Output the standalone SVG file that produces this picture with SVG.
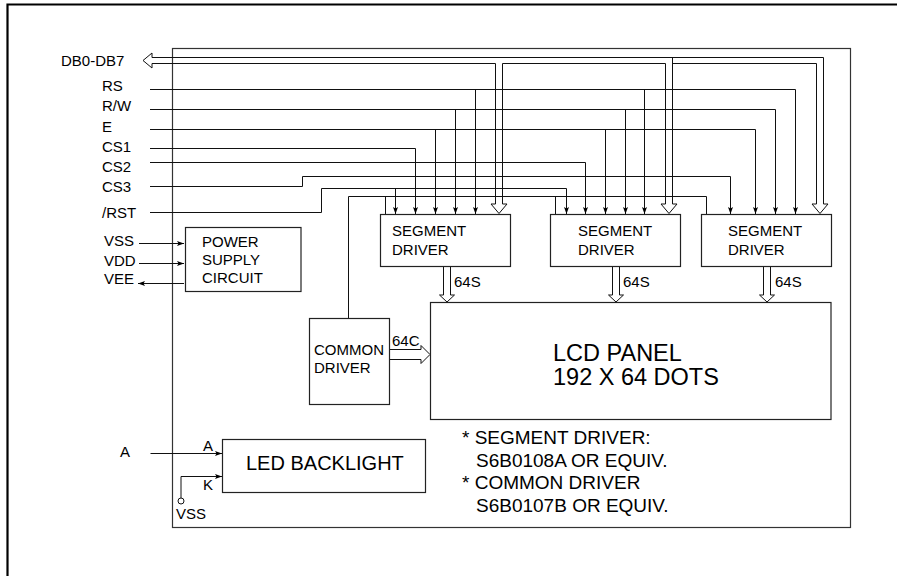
<svg xmlns="http://www.w3.org/2000/svg" width="897" height="576" viewBox="0 0 897 576">
<style>
.ln{fill:none;stroke:#111;stroke-width:1}
.hd{fill:#fff;stroke:#111;stroke-width:1}
.bx{fill:#fff;stroke:#222;stroke-width:1.2}
.fr{fill:none;stroke:#333;stroke-width:1.2}
text{font-family:"Liberation Sans",Arial,sans-serif;font-size:15px;fill:#000}
.big{font-size:20px}
.lcd{font-size:23.5px}
.note{font-size:19px}
</style>
<defs>
<marker id="ah" viewBox="0 0 7 5" refX="7" refY="2.5" markerWidth="7" markerHeight="5" orient="auto" markerUnits="userSpaceOnUse">
<path d="M0,0 L7,2.5 L0,5 L1.5,2.5 Z" fill="#000"/>
</marker>
</defs>
<rect width="897" height="576" fill="#fff"/>
<path d="M7.5,577 V4.5 H898" fill="none" stroke="#000" stroke-width="2.2"/>
<rect id="frame" class="fr" x="172.5" y="48.5" width="678" height="479"/>

<g id="connectors">
<!-- DB bus -->
<path class="ln" d="M152,57.5 H823.5 V204"/>
<path class="ln" d="M152,63.5 H495.5 V204"/>
<path class="ln" d="M502.5,204 V63.5 H665.5 V204"/>
<path class="ln" d="M672.5,204 V57.5"/>
<path class="ln" d="M672.5,63.5 H816.5 V204"/>
<path class="hd" d="M152,57.5 V53 L143,60.5 L152,68 V63.5"/>
<path class="hd" d="M495.5,204 H491 L499,213.5 L507,204 H502.5"/>
<path class="hd" d="M665.5,204 H661 L669,213.5 L677,204 H672.5"/>
<path class="hd" d="M816.5,204 H812 L820,213.5 L828,204 H823.5"/>
<!-- RS -->
<path class="ln" d="M150,89.5 H795.5 V214" marker-end="url(#ah)"/>
<path class="ln" d="M475.5,89.5 V214" marker-end="url(#ah)"/>
<path class="ln" d="M644.5,89.5 V214" marker-end="url(#ah)"/>
<!-- R/W -->
<path class="ln" d="M150,109.5 H775.5 V214" marker-end="url(#ah)"/>
<path class="ln" d="M455.5,109.5 V214" marker-end="url(#ah)"/>
<path class="ln" d="M625.5,109.5 V214" marker-end="url(#ah)"/>
<!-- E -->
<path class="ln" d="M150,129.5 H755.5 V214" marker-end="url(#ah)"/>
<path class="ln" d="M435.5,129.5 V214" marker-end="url(#ah)"/>
<path class="ln" d="M605.5,129.5 V214" marker-end="url(#ah)"/>
<!-- CS1 CS2 CS3 -->
<path class="ln" d="M150,148.5 H415.5 V214" marker-end="url(#ah)"/>
<path class="ln" d="M150,162.5 H585.5 V214" marker-end="url(#ah)"/>
<path class="ln" d="M150,186.5 H302.5 V176.5 H730.5 V214" marker-end="url(#ah)"/>
<!-- /RST -->
<path class="ln" d="M150,212.5 H321.5 V188.5 H566.5 V214" marker-end="url(#ah)"/>
<path class="ln" d="M395.5,188.5 V214" marker-end="url(#ah)"/>
<!-- common driver line -->
<path class="ln" d="M348.5,318 V196.5 H706.5 V214"/>
<path class="ln" d="M385.5,196.5 V214"/>
<path class="ln" d="M555.5,196.5 V214"/>
<!-- 64S buses -->
<path class="ln" d="M443.5,266 V295 M450.5,266 V295"/>
<path class="hd" d="M443.5,295 H439.5 L447,302 L454.5,295 H450.5"/>
<path class="ln" d="M612.5,266 V295 M619.5,266 V295"/>
<path class="hd" d="M612.5,295 H608.5 L616,302 L623.5,295 H619.5"/>
<path class="ln" d="M763.5,266 V295 M770.5,266 V295"/>
<path class="hd" d="M763.5,295 H759.5 L767,302 L774.5,295 H770.5"/>
<!-- 64C bus -->
<path class="ln" d="M390,349.5 H421 M390,359.5 H421"/>
<path class="hd" d="M421,349.5 V345.5 L430,354.5 L421,363.5 V359.5"/>
<!-- power -->
<path class="ln" d="M139,243.5 H184" marker-end="url(#ah)"/>
<path class="ln" d="M139,263.5 H184" marker-end="url(#ah)"/>
<path class="ln" d="M184,283.5 H138" marker-end="url(#ah)"/>
<!-- LED -->
<path class="ln" d="M150.5,453.5 H222" marker-end="url(#ah)"/>
<path class="ln" d="M181,498 V476.5 H222" marker-end="url(#ah)"/>
<circle cx="181" cy="501" r="3" fill="#fff" stroke="#111" stroke-width="1"/>
</g>

<g id="signal-labels">
<text x="61" y="66">DB0-DB7</text>
<text x="102" y="91">RS</text>
<text x="102" y="111">R/W</text>
<text x="102" y="132">E</text>
<text x="102" y="152">CS1</text>
<text x="102" y="172">CS2</text>
<text x="102" y="192">CS3</text>
<text x="102" y="218">/RST</text>
<text x="104" y="246">VSS</text>
<text x="104" y="266">VDD</text>
<text x="104" y="284">VEE</text>
<text x="454" y="287">64S</text>
<text x="623" y="287">64S</text>
<text x="775" y="287">64S</text>
<text x="392" y="346">64C</text>
<text x="120" y="457">A</text>
<text x="203" y="451">A</text>
<text x="203" y="490">K</text>
<text x="176" y="519">VSS</text>
</g>

<g id="seg1">
<rect class="bx" x="380.5" y="214.5" width="130" height="52"/>
<text x="392" y="236">SEGMENT</text>
<text x="392" y="255">DRIVER</text>
</g>
<g id="seg2">
<rect class="bx" x="550.5" y="214.5" width="130" height="52"/>
<text x="578" y="236">SEGMENT</text>
<text x="578" y="255">DRIVER</text>
</g>
<g id="seg3">
<rect class="bx" x="701.5" y="214.5" width="130" height="52"/>
<text x="728" y="236">SEGMENT</text>
<text x="728" y="255">DRIVER</text>
</g>
<g id="power">
<rect class="bx" x="185.5" y="227.5" width="115.5" height="64"/>
<text x="202" y="247">POWER</text>
<text x="202" y="265">SUPPLY</text>
<text x="202" y="283">CIRCUIT</text>
</g>
<g id="common">
<rect class="bx" x="309.5" y="318.5" width="80" height="86"/>
<text x="314" y="355">COMMON</text>
<text x="314" y="373">DRIVER</text>
</g>
<g id="lcd">
<rect class="bx" x="430.5" y="302.5" width="400.5" height="117"/>
<text class="lcd" x="553" y="361">LCD PANEL</text>
<text class="lcd" x="553" y="385">192 X 64 DOTS</text>
</g>
<g id="led">
<rect class="bx" x="222.5" y="439.5" width="203" height="53"/>
<text class="big" x="246" y="470">LED BACKLIGHT</text>
</g>
<g id="notes">
<text class="note" x="462" y="444">* SEGMENT DRIVER:</text>
<text class="note" x="476" y="467">S6B0108A OR EQUIV.</text>
<text class="note" x="462" y="489">* COMMON DRIVER</text>
<text class="note" x="476" y="512">S6B0107B OR EQUIV.</text>
</g>
</svg>
